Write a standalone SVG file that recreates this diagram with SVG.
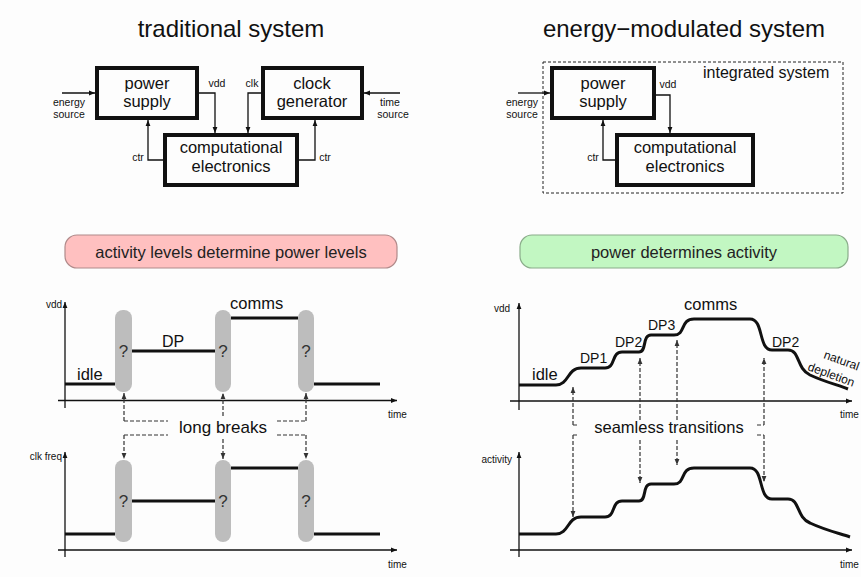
<svg xmlns="http://www.w3.org/2000/svg" width="861" height="577" viewBox="0 0 861 577">
  <defs>
    <marker id="ah" viewBox="0 0 10 10" refX="10" refY="5" markerWidth="6" markerHeight="6" markerUnits="userSpaceOnUse" orient="auto">
      <path d="M0,1 L10,5 L0,9 z" fill="#111"/>
    </marker>
    <marker id="ahd" viewBox="0 0 10 10" refX="10" refY="5" markerWidth="6" markerHeight="6" markerUnits="userSpaceOnUse" orient="auto">
      <path d="M0,1 L10,5 L0,9 z" fill="#333"/>
    </marker>
    <style>
      text { font-family: "Liberation Sans", Arial, sans-serif; fill: #111; }
      .title { font-size: 24px; text-anchor: middle; }
      .box { fill: none; stroke: #111; stroke-width: 4; }
      .bt { font-size: 16.5px; text-anchor: middle; }
      .sm { font-size: 10.5px; text-anchor: middle; }
      .wire { fill: none; stroke: #111; stroke-width: 1.3; marker-end: url(#ah); }
      .axa { fill: none; stroke: #111; stroke-width: 1.3; marker-end: url(#ah); }
      .trace { fill: none; stroke: #111; stroke-width: 3; }
      .gap { fill: #bdbdbd; }
      .q { font-size: 17px; text-anchor: middle; fill: #333; }
      .dash { fill: none; stroke: #333; stroke-width: 1.2; stroke-dasharray: 4 2; }
      .dasha { fill: none; stroke: #333; stroke-width: 1.2; stroke-dasharray: 4 2; marker-end: url(#ahd); }
      .lbl { font-size: 16.5px; }
      .dp { font-size: 14px; }
      .pill { font-size: 16.5px; text-anchor: middle; fill: #222; }
    </style>
  </defs>

  <rect width="861" height="577" fill="#fdfdfd"/>

  <!-- headings -->
  <text class="title" x="231" y="37">traditional system</text>
  <text class="title" x="684" y="37">energy−modulated system</text>

  <!-- ===== traditional block diagram ===== -->
  <g id="trad-power-supply">
    <rect class="box" x="97" y="68" width="100" height="50"/>
    <text class="bt" x="147" y="89">power</text>
    <text class="bt" x="147" y="107">supply</text>
  </g>
  <g id="trad-clock-generator">
    <rect class="box" x="263" y="68" width="99" height="50"/>
    <text class="bt" x="312" y="89">clock</text>
    <text class="bt" x="312" y="107">generator</text>
  </g>
  <g id="trad-computational">
    <rect class="box" x="165" y="135" width="132" height="50"/>
    <text class="bt" x="231" y="153">computational</text>
    <text class="bt" x="231" y="172">electronics</text>
  </g>
  <g id="trad-energy-source">
    <text class="sm" x="69" y="106">energy</text>
    <text class="sm" x="69" y="118">source</text>
  </g>
  <g id="trad-time-source">
    <text class="sm" x="390" y="106">time</text>
    <text class="sm" x="393" y="118">source</text>
  </g>
  <g id="trad-connectors">
    <path class="wire" d="M62,93 H95"/>
    <path class="wire" d="M400,93 H364"/>
    <path class="wire" d="M199,93 H215 V133"/>
    <text class="sm" x="217" y="87">vdd</text>
    <path class="wire" d="M261,93 H248 V133"/>
    <text class="sm" x="252" y="87">clk</text>
    <path class="wire" d="M163,160 H148 V120"/>
    <text class="sm" x="138" y="161">ctr</text>
    <path class="wire" d="M299,160 H315 V120"/>
    <text class="sm" x="325" y="161">ctr</text>
  </g>

  <!-- ===== energy-modulated block diagram ===== -->
  <g id="em-integrated">
    <rect x="543" y="62" width="300" height="131" fill="none" stroke="#222" stroke-width="1" stroke-dasharray="3 2"/>
    <text x="703" y="78" style="font-size:16px">integrated system</text>
  </g>
  <g id="em-power-supply">
    <rect class="box" x="552" y="68" width="102" height="50"/>
    <text class="bt" x="603" y="89">power</text>
    <text class="bt" x="603" y="107">supply</text>
  </g>
  <g id="em-computational">
    <rect class="box" x="617" y="135" width="136" height="50"/>
    <text class="bt" x="685" y="153">computational</text>
    <text class="bt" x="685" y="172">electronics</text>
  </g>
  <g id="em-energy-source">
    <text class="sm" x="522" y="106">energy</text>
    <text class="sm" x="522" y="118">source</text>
  </g>
  <g id="em-connectors">
    <path class="wire" d="M518,93 H550"/>
    <path class="wire" d="M656,95 H670 V133"/>
    <text class="sm" x="668" y="88">vdd</text>
    <path class="wire" d="M615,160 H603 V120"/>
    <text class="sm" x="593" y="161">ctr</text>
  </g>

  <!-- ===== banners ===== -->
  <g id="banner-activity">
    <rect x="65" y="235" width="332" height="33" rx="12" fill="#ffc0c0" stroke="#b08a8a" stroke-width="1.2"/>
    <text class="pill" x="231" y="258">activity levels determine power levels</text>
  </g>
  <g id="banner-power">
    <rect x="520" y="235" width="328" height="33" rx="12" fill="#c2f7c2" stroke="#8aac8a" stroke-width="1.2"/>
    <text class="pill" x="684" y="258">power determines activity</text>
  </g>

  <!-- ===== traditional: vdd vs time ===== -->
  <g id="trad-vdd-plot">
    <path class="axa" d="M65,408 V302"/>
    <path class="axa" d="M58,400.5 H397"/>
    <text x="62" y="308" style="font-size:10px;text-anchor:end">vdd</text>
    <text x="388" y="418" style="font-size:10px">time</text>
    <path class="trace" d="M65,384 H115 M132,351 H215 M231,318 H298 M314,384 H380"/>
    <rect class="gap" x="115" y="310" width="17" height="82" rx="8"/>
    <rect class="gap" x="215" y="310" width="16" height="82" rx="8"/>
    <rect class="gap" x="298" y="310" width="16" height="82" rx="8"/>
    <text class="q" x="123.5" y="357">?</text>
    <text class="q" x="223" y="357">?</text>
    <text class="q" x="306" y="357">?</text>
    <text class="lbl" x="77" y="380">idle</text>
    <text class="lbl" x="162" y="347" style="font-size:16px">DP</text>
    <text class="lbl" x="230" y="309">comms</text>
  </g>

  <!-- ===== traditional: clk freq vs time ===== -->
  <g id="trad-clk-plot">
    <path class="axa" d="M65,557 V452"/>
    <path class="axa" d="M58,550 H397"/>
    <text x="62" y="460" style="font-size:10px;text-anchor:end">clk freq</text>
    <text x="388" y="568" style="font-size:10px">time</text>
    <path class="trace" d="M65,534 H115 M132,501 H215 M231,468 H298 M314,534 H380"/>
    <rect class="gap" x="115" y="460" width="17" height="82" rx="8"/>
    <rect class="gap" x="215" y="460" width="16" height="82" rx="8"/>
    <rect class="gap" x="298" y="460" width="16" height="82" rx="8"/>
    <text class="q" x="123.5" y="507">?</text>
    <text class="q" x="223" y="507">?</text>
    <text class="q" x="306" y="507">?</text>
  </g>

  <!-- long breaks callouts -->
  <g id="long-breaks">
    <path class="dasha" d="M124,421 V393"/>
    <path class="dasha" d="M223,416 V393"/>
    <path class="dasha" d="M306,421 V393"/>
    <path class="dash" d="M124,421 H168 M124,435 H168 M277,421 H306 M277,435 H306"/>
    <path class="dasha" d="M124,435 V459"/>
    <path class="dasha" d="M223,439 V459"/>
    <path class="dasha" d="M306,435 V459"/>
    <text x="223" y="433" style="font-size:17px;text-anchor:middle">long breaks</text>
  </g>

  <!-- ===== energy-modulated: vdd vs time ===== -->
  <g id="em-vdd-plot">
    <path class="axa" d="M519,410 V303"/>
    <path class="axa" d="M510,401 H852"/>
    <text x="510" y="312" style="font-size:10px;text-anchor:end">vdd</text>
    <text x="840" y="418" style="font-size:10px">time</text>
    <path id="supply-curve" class="trace" d="M519,385 H556 C569,385 567,368 581,368 H605 C616,368 611,352 622,352 H639 C647,352 642,335 651,335 H674 C686,335 680,319 694,319 H750 C764,319 758,350 772,350 H788 C800,350 796,368 810,375 C825,382 838,385 848,389"/>
    <text class="lbl" x="532" y="380">idle</text>
    <text class="dp" x="580" y="363">DP1</text>
    <text class="dp" x="615" y="347">DP2</text>
    <text class="dp" x="648" y="330">DP3</text>
    <text class="lbl" x="684" y="310">comms</text>
    <text class="dp" x="772" y="347">DP2</text>
    <text x="823" y="358" transform="rotate(20 823 358)" style="font-size:12px">natural</text>
    <text x="807" y="370" transform="rotate(20 807 370)" style="font-size:12px">depletion</text>
  </g>

  <!-- ===== energy-modulated: activity vs time ===== -->
  <g id="em-activity-plot">
    <path class="axa" d="M519,557 V452"/>
    <path class="axa" d="M510,550 H852"/>
    <text x="512" y="463" style="font-size:10px;text-anchor:end">activity</text>
    <text x="840" y="568" style="font-size:10px">time</text>
    <path class="trace" transform="translate(0,149)" d="M519,385 H556 C569,385 567,368 581,368 H605 C616,368 611,352 622,352 H639 C647,352 642,335 651,335 H674 C686,335 680,319 694,319 H750 C764,319 758,350 772,350 H788 C800,350 796,368 810,374 C825,381 838,384 850,388"/>
  </g>

  <!-- seamless transitions callouts -->
  <g id="seamless-transitions">
    <path class="dasha" d="M573,425 V387"/>
    <path class="dasha" d="M640,420 V358"/>
    <path class="dasha" d="M677,420 V340"/>
    <path class="dasha" d="M764,425 V358"/>
    <path class="dash" d="M573,425 H579 M573,435 H579 M757,425 H764 M757,435 H764"/>
    <path class="dasha" d="M573,435 V517"/>
    <path class="dasha" d="M640,440 V483"/>
    <path class="dasha" d="M677,440 V465"/>
    <path class="dasha" d="M764,435 V482"/>
    <text x="669" y="433" style="font-size:16.5px;text-anchor:middle">seamless transitions</text>
  </g>
</svg>
